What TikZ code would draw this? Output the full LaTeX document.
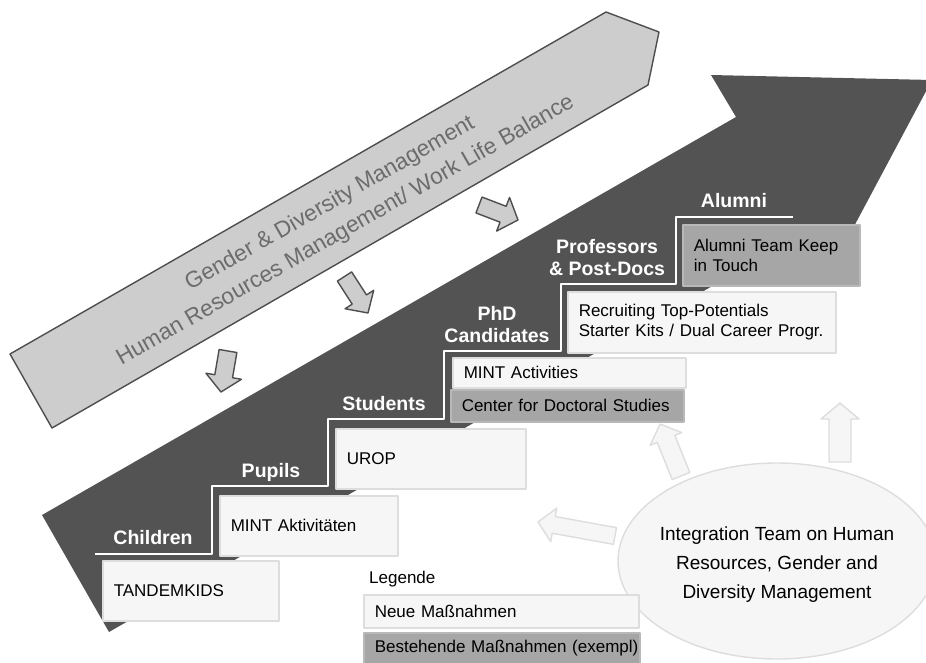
\documentclass[tikz,border=0pt]{standalone}
\usepackage{fontspec}
\setmainfont{Liberation Sans}
\usetikzlibrary{positioning,shapes.geometric}

\definecolor{stairgray}{RGB}{83,83,83}
\definecolor{bandgray}{RGB}{205,205,205}
\definecolor{bandline}{RGB}{78,78,78}
\definecolor{bandtext}{RGB}{108,108,108}
\definecolor{newfill}{RGB}{246,246,246}
\definecolor{newline}{RGB}{221,221,221}
\definecolor{oldfill}{RGB}{166,166,166}

\newcommand{\boxfont}{\fontsize{17}{20}\selectfont}
\newcommand{\stagefont}{\fontsize{19.5}{22}\selectfont\bfseries}
\newcommand{\bandfont}{\fontsize{22.7}{31}\selectfont}
\newcommand{\teamfont}{\fontsize{19}{29}\selectfont}
% block arrow: style, tail, angle, length, shaft half width, head half width
\newcommand{\blockarrow}[6][]{%
  \draw[#1, shift={#2}, rotate=#3] (0,-#5) -- ({#4-16},-#5) -- ({#4-16},-#6)
    -- (#4,0) -- ({#4-16},#6) -- ({#4-16},#5) -- (0,#5) -- cycle;}

\begin{document}
\begin{tikzpicture}[x=1pt, y=-1pt, line join=round,
    band/.style={draw=bandline, fill=bandgray, line width=1.4pt},
    grayarrow/.style={draw=bandline, fill=bandgray, line width=1.4pt},
    lightarrow/.style={draw=newline, fill=newfill, line width=1.4pt},
    newbox/.style={draw=newline, fill=newfill, line width=1.5pt, anchor=north west,
      align=left, inner xsep=11pt, inner ysep=0pt, font=\boxfont},
    oldbox/.style={newbox, draw=oldfill!80!white, fill=oldfill},
    stage/.style={text=white, font=\stagefont, align=center, inner sep=0pt, anchor=base},
    stepline/.style={draw=white, line width=2pt},
  ]
  \useasboundingbox (0,0) rectangle (926,662);
  \clip (0,0) rectangle (926,662);

  % policy band
  \draw[band] (10,354) -- (606,12) -- (659,32) -- (648,85) -- (52,428) -- cycle;
  \node[text=bandtext, font=\bandfont, align=center, inner sep=0pt, anchor=base, rotate=29.8]
    (policy) at (348.5,235.8) {Gender \& Diversity Management\\Human Resources Management/ Work Life Balance};

  % career arrow
  \fill[stairgray] (42,515) -- (736,117) -- (711,75) -- (932,80) -- (827,277) -- (803,234) -- (109,632) -- cycle;

  \blockarrow[grayarrow]{(228,351)}{-99.7}{41.6}{9}{18}
  \blockarrow[grayarrow]{(344.5,276.5)}{-57.2}{43.4}{8.5}{17}
  \blockarrow[grayarrow]{(479,205)}{-21}{41.8}{8.5}{18}

  % stairs
  \draw[stepline] (95,554) -- (212,554) -- (212,486) -- (328,486) -- (328,419) -- (444,419)
    -- (444,351) -- (561,351) -- (561,284) -- (676,284) -- (676,217) -- (793,217);

  \node[stage] (children) at (153,544) {Children};
  \node[stage] (pupils) at (271,477) {Pupils};
  \node[stage] (students) at (384,410) {Students};
  \node[stage] (phd) at (497,342) {PhD\\Candidates};
  \node[stage] (profs) at (607,275) {Professors\\\& Post-Docs};
  \node[stage] (alumni) at (734,207) {Alumni};

  \node[newbox, text width=154pt, minimum height=60pt] (tandem) at (102,560) {TANDEMKIDS};
  \node[newbox, text width=156pt, minimum height=60pt] (mintde) at (219,495) {MINT Aktivitäten};
  \node[newbox, text width=168pt, minimum height=60pt] (urop) at (335,428) {UROP};
  \node[newbox, text width=211pt, minimum height=30pt] (minten) at (452,357) {MINT Activities};
  \node[oldbox, text width=211pt, minimum height=32pt] (doctoral) at (450,389) {Center for Doctoral Studies};
  \node[newbox, text width=246pt, minimum height=61pt] (recruit) at (567,291)
    {Recruiting Top-Potentials\\\mbox{Starter Kits / Dual Career Progr.}};
  \node[oldbox, text width=155pt, minimum height=61pt] (keep) at (682,224) {Alumni Team Keep\\in Touch};

  % integration team
  \node[ellipse, draw=newline, fill=newfill, line width=1.4pt, minimum width=318pt, minimum height=196pt]
    (team) at (777,561) {};
  \node[font=\teamfont, align=center, inner sep=0pt, anchor=base] (teamtext) at (777,598)
    {Integration Team on Human\\Resources, Gender and\\Diversity Management};

  \blockarrow[lightarrow]{(615,536)}{169.7}{78.3}{8.5}{17}
  \blockarrow[lightarrow]{(681,476)}{112}{56}{9.5}{17}
  \blockarrow[lightarrow]{(840,462)}{90}{59}{11}{19}

  % legend
  \node[font=\boxfont, inner sep=0pt, anchor=base west] (legend) at (369,583) {Legende};
  \node[newbox, text width=253pt, minimum height=33pt] (neu) at (363,594) {Neue Maßnahmen};
  \node[oldbox, text width=254pt, minimum height=31pt] (alt) at (363,632) {\mbox{Bestehende Maßnahmen (exempl)}};
\end{tikzpicture}
\end{document}
